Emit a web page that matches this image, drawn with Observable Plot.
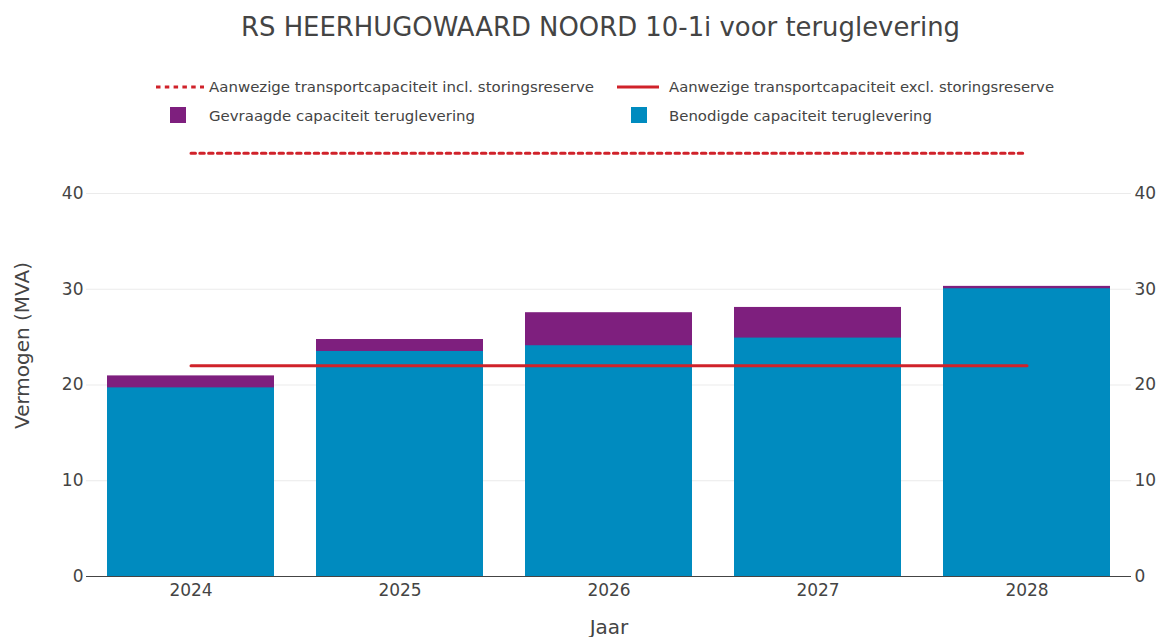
<!DOCTYPE html>
<html><head><meta charset="utf-8">
<script src="https://cdn.jsdelivr.net/npm/d3@7"></script>
<script src="https://cdn.jsdelivr.net/npm/@observablehq/plot@0.6"></script>
<style>
body{margin:0;background:#fff}
#wrap{position:relative;width:1161px;height:637px;font-family:'DejaVu Sans',Verdana,sans-serif}
#wrap svg.chart{display:block}
#overlay{position:absolute;left:0;top:0;pointer-events:none}
</style></head><body>
<div id="wrap"></div>
<script>
// ---- data ----
const years = ["2024", "2025", "2026", "2027", "2028"];
const benodigd = [19.7, 23.5, 24.1, 24.9, 30.05];     // Benodigde capaciteit teruglevering
const gevraagd = [20.95, 24.75, 27.55, 28.1, 30.3];   // Gevraagde capaciteit teruglevering (total)
const inclReserve = [44.2, 44.2, 44.2, 44.2, 44.2];   // incl. storingsreserve
const exclReserve = [22, 22, 22, 22, 22];             // excl. storingsreserve
const yTicks = [0, 10, 20, 30, 40];
const title = "RS HEERHUGOWAARD NOORD 10-1i voor teruglevering";
const legendIncl = "Aanwezige transportcapaciteit incl. storingsreserve";
const legendExcl = "Aanwezige transportcapaciteit excl. storingsreserve";
const legendGevraagd = "Gevraagde capaciteit teruglevering";
const legendBenodigd = "Benodigde capaciteit teruglevering";
const xLabel = "Jaar";
const yLabel = "Vermogen (MVA)";

const BLUE = "#008bbf", PURPLE = "#7e1f7e", RED = "#d0222a", TEXT = "#444";

const rows = years.map((y, i) => ({
  year: y, benodigd: benodigd[i], gevraagd: gevraagd[i],
  incl: inclReserve[i], excl: exclReserve[i]
}));

const chart = Plot.plot({
  width: 1161, height: 637,
  marginTop: 114, marginBottom: 61, marginLeft: 86, marginRight: 30,
  style: {fontFamily: "'DejaVu Sans', Verdana, sans-serif", fontSize: "17px", color: TEXT, background: "#fff"},
  x: {type: "band", domain: years, paddingInner: 0.2, paddingOuter: 0.1, label: null},
  y: {domain: [0, 48.25], label: null},
  marks: [
    Plot.gridY(yTicks.filter(d => d > 0), {stroke: "#ebebeb", strokeOpacity: 1}),
    Plot.barY(rows, {x: "year", y1: 0, y2: "gevraagd", fill: PURPLE}),
    Plot.barY(rows, {x: "year", y1: 0, y2: "benodigd", fill: BLUE}),
    Plot.ruleY([0], {stroke: TEXT, strokeWidth: 1.2}),
    Plot.lineY(rows, {x: "year", y: "excl", stroke: RED, strokeWidth: 3}),
    Plot.lineY(rows, {x: "year", y: "incl", stroke: RED, strokeWidth: 3, strokeDasharray: "4.5,4.3"}),
    Plot.axisX({tickSize: 0, tickPadding: 7, label: null}),
    Plot.axisY({anchor: "left", ticks: yTicks, tickSize: 0, tickPadding: 3, label: null}),
    Plot.axisY({anchor: "right", ticks: yTicks, tickSize: 0, tickPadding: 3, label: null}),
    Plot.text([xLabel], {text: d => d, frameAnchor: "bottom", dy: 57, fontSize: 20}),
    Plot.text([yLabel], {text: d => d, frameAnchor: "left", textAnchor: "middle", dx: -64, rotate: -90, fontSize: 20})
  ]
});
chart.classList.add("chart");
document.getElementById("wrap").appendChild(chart);

// ---- title and legend (overlay above the plot area) ----
const ov = d3.select("#wrap").append("svg").attr("id", "overlay")
  .attr("width", 1161).attr("height", 140)
  .style("font-family", "'DejaVu Sans', Verdana, sans-serif");

ov.append("text").attr("x", 600.5).attr("y", 36).attr("text-anchor", "middle")
  .attr("font-size", 27).attr("fill", TEXT)
  .attr("textLength", 719).attr("lengthAdjust", "spacingAndGlyphs").text(title);

const leg = ov.append("g").attr("font-size", 14.5).attr("fill", TEXT);
// row 1
leg.append("line").attr("x1", 156).attr("x2", 204).attr("y1", 87).attr("y2", 87)
  .attr("stroke", RED).attr("stroke-width", 3).attr("stroke-dasharray", "4.5,4.3");
leg.append("text").attr("x", 209).attr("y", 92).attr("textLength", 385)
  .attr("lengthAdjust", "spacingAndGlyphs").text(legendIncl);
leg.append("line").attr("x1", 617).attr("x2", 659).attr("y1", 87).attr("y2", 87)
  .attr("stroke", RED).attr("stroke-width", 3);
leg.append("text").attr("x", 669).attr("y", 92).attr("textLength", 385)
  .attr("lengthAdjust", "spacingAndGlyphs").text(legendExcl);
// row 2
leg.append("rect").attr("x", 170).attr("y", 107).attr("width", 16).attr("height", 16).attr("fill", PURPLE);
leg.append("text").attr("x", 209).attr("y", 121).attr("textLength", 266)
  .attr("lengthAdjust", "spacingAndGlyphs").text(legendGevraagd);
leg.append("rect").attr("x", 631).attr("y", 107).attr("width", 16).attr("height", 16).attr("fill", BLUE);
leg.append("text").attr("x", 669).attr("y", 121).attr("textLength", 263)
  .attr("lengthAdjust", "spacingAndGlyphs").text(legendBenodigd);
</script>
</body></html>
